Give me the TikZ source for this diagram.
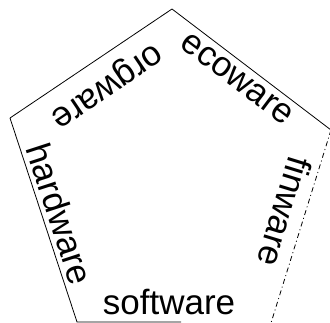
\documentclass[tikz,border=0pt]{standalone}
\usepackage{fontspec}
\setmainfont{Liberation Sans}
\begin{document}
\begin{tikzpicture}[x=1pt,y=-1pt,line width=0.8pt,
	every node/.style={inner sep=0pt, font=\fontsize{35}{35}\selectfont}]
\useasboundingbox (0,0) rectangle (330,323);
\foreach \n \x \y in {
	T/172/9,R/331/130%
	,BR/271/323,BL/77/322,L/10/118%
	,S/181/322%
}{
	\coordinate(\n) at(\x,\y);
}

\foreach \x \y \a \t in {
	237/79/-37/ecoware,105/84/214/orgware%
	,60/214/-72/hardware,285/212/-107/finware%
	,169/302/0/software%
}{
	\node[rotate=\a](\t) at(\x,\y) {\t};
}

\draw (L) -- (T) -- (R);
\draw (L) -- (BL) -- (S);
\draw[dash pattern=on 5pt off 3pt on 1pt off 3pt] (R) -- (BR);
\end{tikzpicture}
\end{document}
